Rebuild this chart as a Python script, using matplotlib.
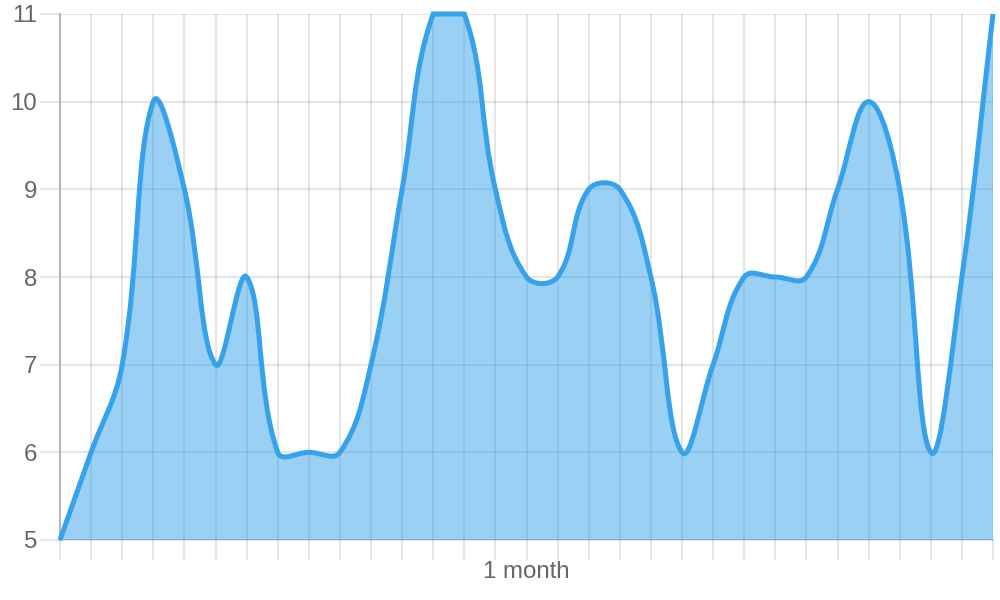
import numpy as np
import matplotlib
matplotlib.use("Agg")
import matplotlib.pyplot as plt
from matplotlib.path import Path
from matplotlib.patches import PathPatch

# datos de la serie (un punto por día)
days = [0, 1, 2, 3, 4, 5, 6, 7, 8, 9, 10, 11, 12, 13, 14, 15,
        16, 17, 18, 19, 20, 21, 22, 23, 24, 25, 26, 27, 28, 29, 30]
values = [5, 6, 7, 10, 9, 7, 8, 6, 6, 6, 7, 9, 11, 11, 9, 8,
          8, 9, 9, 8, 6, 7, 8, 8, 8, 9, 10, 9, 6, 8, 11]

y_ticks = [5, 6, 7, 8, 9, 10, 11]
x_label_day = 15
x_label_text = "1 month"

line_color = "#36A2EB"
text_color = "#666666"
tension = 0.4

plt.rcParams["font.family"] = ["Liberation Sans", "DejaVu Sans"]

fig = plt.figure(figsize=(10, 6), dpi=100)
ax = fig.add_axes([0.06, 0.1, 0.933, 526 / 600])
ax.set_xlim(days[0], days[-1])
ax.set_ylim(y_ticks[0], y_ticks[-1])


def spline_path(xs, ys):
    """Curva bezier al estilo Chart.js (tension + puntos de control acotados)."""
    pts = ax.transData.transform(np.column_stack([xs, ys]))
    bb = ax.bbox
    n = len(pts)
    cp_prev = []
    cp_next = []
    for i in range(n):
        prev = pts[max(i - 1, 0)]
        cur = pts[i]
        nxt = pts[min(i + 1, n - 1)]
        d01 = np.hypot(*(cur - prev))
        d12 = np.hypot(*(nxt - cur))
        tot = d01 + d12
        s01 = d01 / tot if tot else 0
        s12 = d12 / tot if tot else 0
        a = cur - tension * s01 * (nxt - prev)
        b = cur + tension * s12 * (nxt - prev)
        # acotar al área del gráfico
        for c in (a, b):
            c[0] = min(max(c[0], bb.x0), bb.x1)
            c[1] = min(max(c[1], bb.y0), bb.y1)
        cp_prev.append(a)
        cp_next.append(b)

    verts = [pts[0]]
    codes = [Path.MOVETO]
    for i in range(n - 1):
        verts += [cp_next[i], cp_prev[i + 1], pts[i + 1]]
        codes += [Path.CURVE4] * 3
    inv = ax.transData.inverted()
    return inv.transform(np.array(verts)), codes


verts, codes = spline_path(days, values)

# relleno hasta la base
fill_verts = np.vstack([verts, [[days[-1], y_ticks[0]], [days[0], y_ticks[0]], verts[0]]])
fill_codes = codes + [Path.LINETO, Path.LINETO, Path.CLOSEPOLY]
ax.add_patch(PathPatch(Path(fill_verts, fill_codes), facecolor=line_color,
                       alpha=0.5, edgecolor="none", zorder=2))
ax.add_patch(PathPatch(Path(verts, codes), facecolor="none", edgecolor=line_color,
                       lw=3.6, zorder=3, clip_on=False))

# ejes y rejilla
ax.set_axisbelow(True)
ax.set_xticks(days)
ax.set_xticklabels([x_label_text if d == x_label_day else "" for d in days])
ax.set_yticks(y_ticks)
ax.set_yticklabels([str(v) for v in y_ticks])
ax.grid(True, color="#000000", alpha=0.1, lw=1.44)
ax.tick_params(axis="both", length=14.4, width=1.44, color="#e6e6e6",
               labelcolor=text_color, labelsize=17.3)
ax.tick_params(axis="x", pad=0.5)
ax.tick_params(axis="y", pad=2.2)

for s in ["top", "right"]:
    ax.spines[s].set_visible(False)
ax.spines["bottom"].set_color((0, 0, 0, 0.1))
ax.spines["bottom"].set_linewidth(1.44)
ax.spines["left"].set_color("#b4b4b4")
ax.spines["left"].set_linewidth(1.44)
ax.xaxis.get_major_ticks()[0].tick1line.set_color("#b4b4b4")

fig.savefig("out.png", dpi=100)
